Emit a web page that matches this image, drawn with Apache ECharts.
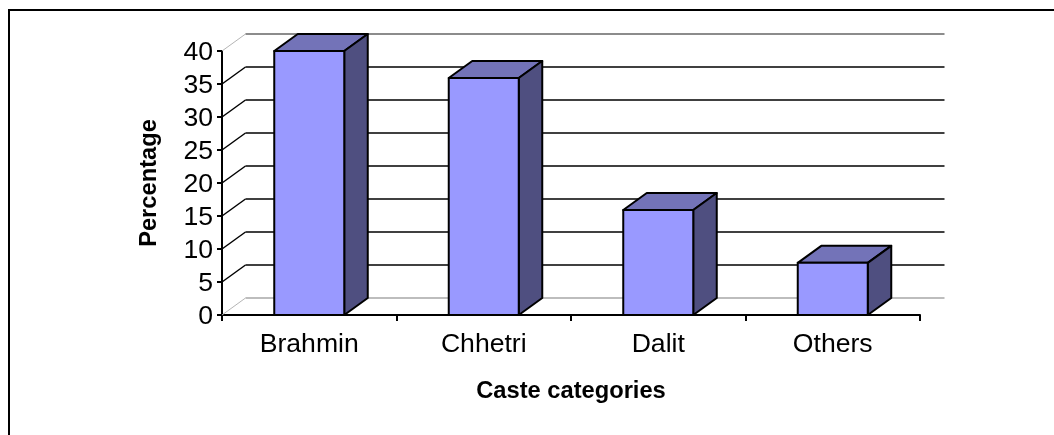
<!DOCTYPE html>
<html>
<head>
<meta charset="utf-8">
<style>
  html, body { margin: 0; padding: 0; background: #fff; }
  #chart { width: 1054px; height: 435px; }
</style>
<script src="https://cdn.jsdelivr.net/npm/echarts@6/dist/echarts.min.js"></script>
</head>
<body>
<div id="chart"></div>
<script>
  var categories = ['Brahmin', 'Chhetri', 'Dalit', 'Others']
  var percentages = [40, 35.9, 15.9, 7.9]
  var yTicks = [0, 5, 10, 15, 20, 25, 30, 35, 40]

  // depth of the fake 3D floor, in pixels
  var depthX = 23.5
  var depthY = -17
  var barWidth = 70

  var chart = echarts.init(document.getElementById('chart'))

  function line (x1, y1, x2, y2, color, width) {
    return {
      type: 'line',
      shape: { x1: x1, y1: y1, x2: x2, y2: y2 },
      style: { stroke: color, lineWidth: width }
    }
  }

  function renderWall (params, api) {
    var value = api.value(0)
    var pos = api.coord([0, value])
    var band = api.size([1, 0])[0]
    var left = pos[0] - band / 2
    var right = left + band * categories.length
    var color = '#000'
    if (value === 40) color = '#8c8c8c'
    if (value === 0) color = '#bdbdbd'
    var edge = value === 0 || value === 40
    return {
      type: 'group',
      children: [
        line(left, pos[1], left + depthX, pos[1] + depthY, edge ? '#b5b5b5' : '#000', edge ? 1 : 1.5),
        line(left + depthX, pos[1] + depthY, right + depthX + 1, pos[1] + depthY, color, edge ? 2 : 1.6)
      ]
    }
  }

  function renderBar (params, api) {
    var top = api.coord([api.value(0), api.value(1)])
    var base = api.coord([api.value(0), 0])
    var l = top[0] - barWidth / 2
    var r = top[0] + barWidth / 2
    var stroke = { stroke: '#000', lineWidth: 2, lineJoin: 'round' }
    return {
      type: 'group',
      children: [
        {
          type: 'polygon',
          shape: { points: [[l, top[1]], [l + depthX, top[1] + depthY], [r + depthX, top[1] + depthY], [r, top[1]]] },
          style: Object.assign({ fill: '#7373b8' }, stroke)
        },
        {
          type: 'polygon',
          shape: { points: [[r, top[1]], [r + depthX, top[1] + depthY], [r + depthX, base[1] + depthY], [r, base[1]]] },
          style: Object.assign({ fill: '#4f4f80' }, stroke)
        },
        {
          type: 'rect',
          shape: { x: l, y: top[1], width: barWidth, height: base[1] - top[1] },
          style: Object.assign({ fill: '#9999ff' }, stroke)
        }
      ]
    }
  }

  chart.setOption({
    animation: false,
    backgroundColor: '#fff',
    textStyle: { fontFamily: 'Liberation Sans' },
    // frame of the source only has its top and left sides
    graphic: [
      {
        type: 'line',
        silent: true,
        shape: { x1: 8, y1: 10, x2: 1054, y2: 10 },
        style: { stroke: '#000', lineWidth: 2 }
      },
      {
        type: 'line',
        silent: true,
        shape: { x1: 9, y1: 10, x2: 9, y2: 435 },
        style: { stroke: '#000', lineWidth: 2 }
      }
    ],
    grid: { left: 222, top: 51, width: 698, height: 264 },
    xAxis: {
      type: 'category',
      data: categories,
      name: 'Caste categories',
      nameLocation: 'middle',
      nameGap: 64,
      nameTextStyle: { fontSize: 23.7, fontWeight: 'bold', color: '#000' },
      axisLine: { lineStyle: { color: '#000', width: 2 } },
      axisTick: { show: true, length: 6, lineStyle: { color: '#000', width: 2 } },
      axisLabel: { fontSize: 26.6, color: '#000', margin: 16 }
    },
    yAxis: {
      type: 'value',
      min: 0,
      max: 40,
      interval: 5,
      name: 'Percentage',
      nameLocation: 'middle',
      nameGap: 61,
      nameTextStyle: { fontSize: 23.7, fontWeight: 'bold', color: '#000' },
      splitLine: { show: false },
      axisLine: { show: true, lineStyle: { color: '#000', width: 2 } },
      axisTick: { show: true, length: 5, lineStyle: { color: '#000', width: 2 } },
      // small line box hung from the tick drops the digits 2px, as in the source
      axisLabel: { fontSize: 26.6, color: '#000', margin: 9, verticalAlign: 'top', lineHeight: 4 }
    },
    series: [
      {
        type: 'custom',
        coordinateSystem: 'cartesian2d',
        renderItem: renderWall,
        encode: { y: 0 },
        silent: true,
        z: 1,
        data: yTicks.map(function (t) { return [t] })
      },
      {
        type: 'custom',
        coordinateSystem: 'cartesian2d',
        renderItem: renderBar,
        encode: { x: 0, y: 1 },
        z: 2,
        data: percentages.map(function (v, i) { return [i, v] })
      }
    ]
  })
</script>
</body>
</html>
